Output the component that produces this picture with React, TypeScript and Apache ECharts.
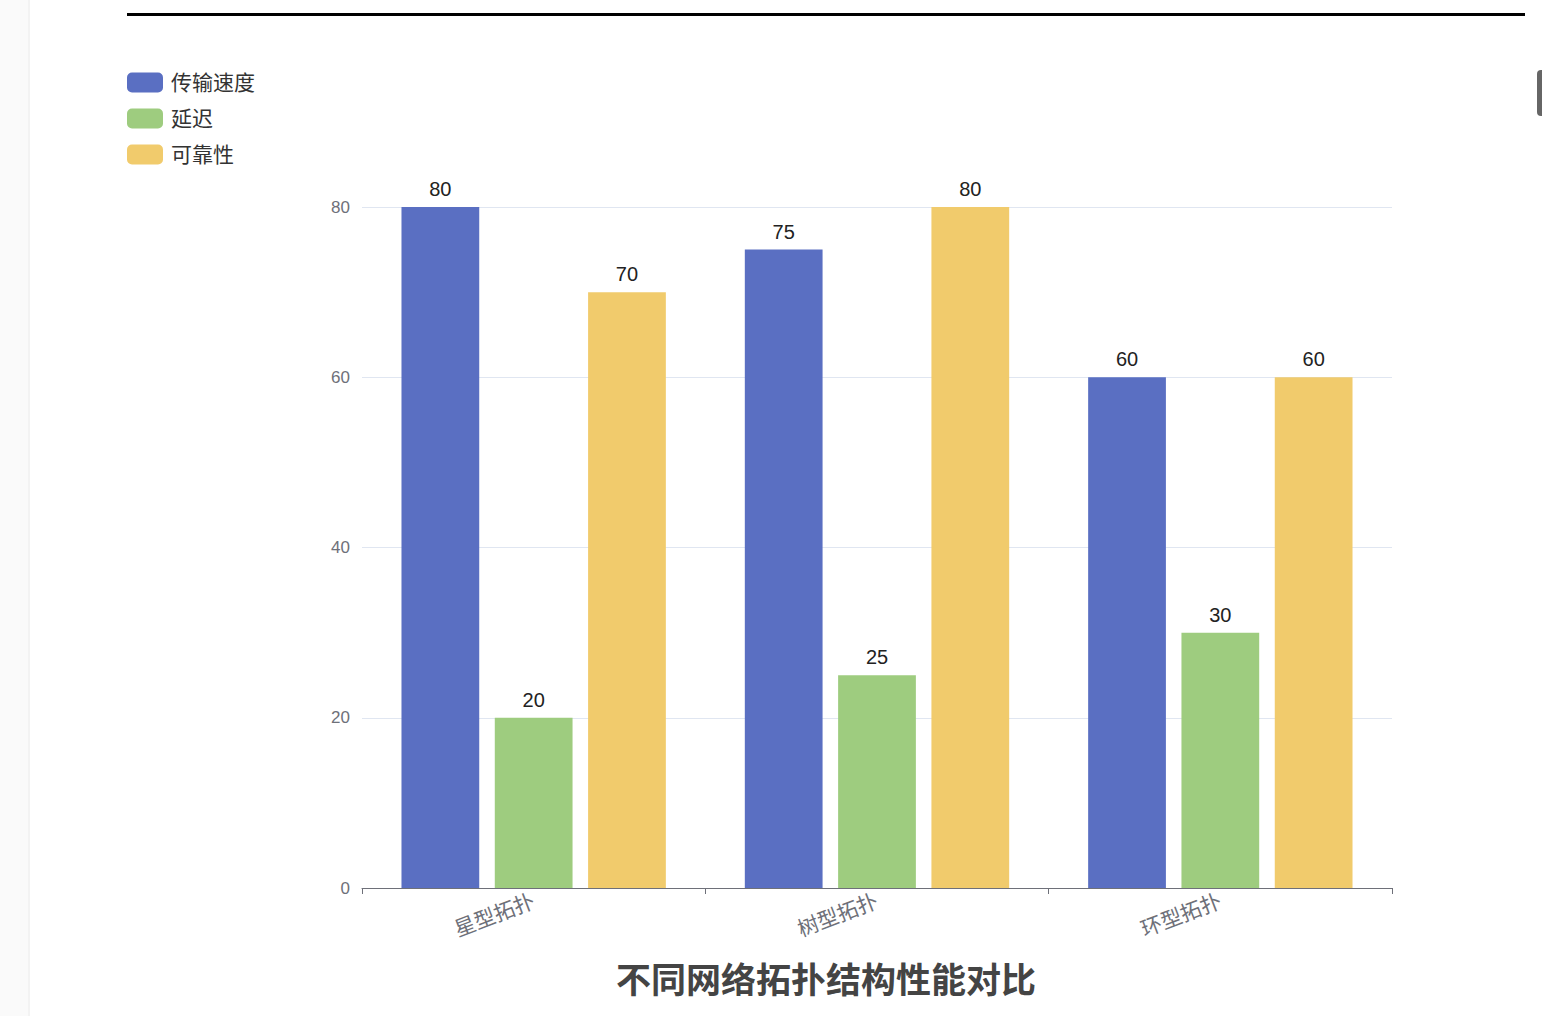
import React, { useEffect, useRef } from 'react';
import * as echarts from 'echarts';

const categories = ['星型拓扑', '树型拓扑', '环型拓扑'];
const speed = [80, 75, 60];
const latency = [20, 25, 30];
const reliability = [70, 80, 60];
const seriesNames = ['传输速度', '延迟', '可靠性'];
const colors = ['#5a6fc2', '#9ecc7f', '#f1cb6c'];

const FONT = "'Liberation Sans', 'Noto Sans CJK SC', sans-serif";

const App: React.FC = () => {
  const chartRef = useRef<HTMLDivElement>(null);

  useEffect(() => {
    document.body.style.margin = '0';
    if (!chartRef.current) return;
    const myChart = echarts.init(chartRef.current, undefined, { renderer: 'svg' });

    const option: echarts.EChartsOption = {
      animation: false,
      color: colors,
      textStyle: { fontFamily: FONT },
      title: {
        text: '不同网络拓扑结构性能对比',
        left: 'center',
        top: 942,
        textStyle: { fontSize: 35, fontWeight: 'bold', color: '#444', fontFamily: FONT },
      },
      legend: {
        orient: 'vertical',
        left: 0,
        top: 56,
        padding: 0,
        itemWidth: 36,
        itemHeight: 20,
        itemGap: 15,
        textStyle: { fontSize: 21, color: '#333', fontFamily: FONT, padding: [0, 0, 0, 3] },
        data: seriesNames,
      },
      grid: { left: 235, right: 133, top: 191, bottom: 128 },
      xAxis: {
        type: 'category',
        data: categories,
        axisLabel: { rotate: 21, fontSize: 21, color: '#6E7079', margin: 12 },
        axisLine: { lineStyle: { color: '#6E7079' } },
        axisTick: { show: true, length: 6, lineStyle: { color: '#6E7079' } },
      },
      yAxis: {
        type: 'value',
        min: 0,
        max: 80,
        interval: 20,
        axisLabel: { fontSize: 17, color: '#6E7079', margin: 12 },
        splitLine: { lineStyle: { color: '#E0E6F1' } },
      },
      series: [
        { name: seriesNames[0], data: speed },
        { name: seriesNames[1], data: latency },
        { name: seriesNames[2], data: reliability },
      ].map((s) => ({
        ...s,
        type: 'bar' as const,
        barGap: '20%',
        barCategoryGap: '23%',
        label: { show: true, position: 'top' as const, distance: 8, fontSize: 20, color: '#222' },
      })),
    };

    myChart.setOption(option);

    const handleResize = () => myChart.resize();
    window.addEventListener('resize', handleResize);
    return () => {
      window.removeEventListener('resize', handleResize);
      myChart.dispose();
    };
  }, []);

  return (
    <div style={{ position: 'fixed', left: 0, top: 0, width: 1542, height: 1016, background: '#fff', overflow: 'hidden' }}>
      <div style={{ position: 'absolute', left: 0, top: 0, width: 28, height: 1016, background: '#fafafa', borderRight: '2px solid #f3f3f3' }} />
      <div style={{ position: 'absolute', left: 127, top: 13, width: 1398, height: 3, background: '#000' }} />
      <div style={{ position: 'absolute', left: 1537, top: 70, width: 10, height: 46, background: '#666', borderRadius: 4 }} />
      <div ref={chartRef} style={{ position: 'absolute', left: 127, top: 16, width: 1398, height: 1000 }} />
    </div>
  );
};

export default App;
